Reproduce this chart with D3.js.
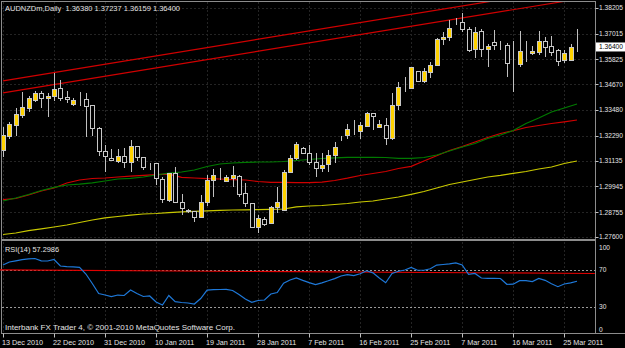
<!DOCTYPE html>
<html>
<head>
<meta charset="utf-8">
<title>AUDNZDm,Daily</title>
<script src="https://cdn.jsdelivr.net/npm/d3@7"></script>
<style>
body{margin:0;background:#000;overflow:hidden;}
text{font-family:"Liberation Sans Narrow","Arial Narrow","Liberation Sans",sans-serif;font-size:8px;fill:#e4e4e4;white-space:pre;}
text.px{font-size:7px;}
</style>
</head>
<body>
<div id="viz"></div>
<script>
var width = 625, height = 348;

// daily OHLC, one entry per bar (13 Dec 2010 .. 28 Mar 2011)
var opens = [1.31628,1.32277,1.32786,1.33249,1.33574,1.33944,1.34268,1.34037,1.34129,1.34500,
  1.34083,1.33759,1.33944,1.33991,1.33713,1.32647,1.31582,1.31258,1.31119,1.31351,
  1.31073,1.31814,1.31304,1.31026,1.31026,1.30285,1.29313,1.30563,1.29220,1.28850,
  1.28804,1.28526,1.29220,1.30239,1.30424,1.30193,1.30332,1.30424,1.29637,1.29174,
  1.28063,1.28433,1.28248,1.28989,1.28850,1.30610,1.31258,1.31721,1.31490,1.31073,
  1.30795,1.30980,1.31397,1.32184,1.32323,1.32601,1.32508,1.32740,1.33342,1.32694,
  1.32786,1.32184,1.33713,1.34546,1.34500,1.35287,1.34824,1.35241,1.35565,1.36769,
  1.36862,1.37556,1.37556,1.37232,1.36306,1.37139,1.36306,1.36630,1.36537,1.36491,
  1.35657,1.35611,1.36260,1.36121,1.36167,1.36676,1.36445,1.36260,1.35796,1.35796,
  1.36380];
var highs = [1.32694,1.32925,1.33574,1.34314,1.34129,1.34361,1.34361,1.34268,1.35194,1.34870,
  1.34361,1.34037,1.34314,1.34268,1.33720,1.32694,1.31860,1.31675,1.31675,1.31721,
  1.32091,1.31814,1.31310,1.31030,1.31030,1.30378,1.30563,1.30841,1.29591,1.28900,
  1.28810,1.29545,1.30471,1.30749,1.30795,1.30471,1.30887,1.30471,1.30100,1.29180,
  1.28618,1.28526,1.29035,1.29915,1.30702,1.31397,1.31999,1.31767,1.31860,1.31490,
  1.31490,1.31628,1.31999,1.32277,1.32832,1.33018,1.32925,1.33388,1.33350,1.33018,
  1.33110,1.34268,1.34778,1.35009,1.35472,1.35290,1.35426,1.35704,1.36815,1.37093,
  1.37649,1.37741,1.37973,1.37325,1.37325,1.37232,1.36537,1.37186,1.36676,1.36584,
  1.36676,1.37139,1.36676,1.36445,1.37139,1.36862,1.36908,1.36306,1.36260,1.36537,
  1.37237];
var lows = [1.31304,1.32138,1.32277,1.33110,1.33388,1.33852,1.33574,1.33157,1.33898,1.33898,
  1.33805,1.33666,1.33666,1.32230,1.32277,1.31351,1.30610,1.31165,1.31026,1.30795,
  1.30610,1.31119,1.30702,1.30702,1.30007,1.29174,1.29220,1.29174,1.28618,1.28711,
  1.28294,1.28479,1.29035,1.29452,1.30239,1.30146,1.29915,1.29452,1.28989,1.28016,
  1.27785,1.28109,1.28202,1.28711,1.28850,1.30563,1.31165,1.31490,1.30934,1.30378,
  1.30610,1.30610,1.31026,1.32045,1.32138,1.32323,1.32138,1.32694,1.32555,1.32647,
  1.31860,1.32091,1.33481,1.34314,1.34453,1.34778,1.34731,1.34963,1.35518,1.36491,
  1.36676,1.37417,1.37093,1.36167,1.35889,1.35935,1.35472,1.36260,1.36260,1.35009,
  1.34314,1.35472,1.35704,1.36028,1.36028,1.35935,1.35982,1.35518,1.35657,1.35750,
  1.36159];
var closes = [1.32323,1.32832,1.33296,1.33620,1.34037,1.34268,1.34037,1.34129,1.34453,1.34037,
  1.33991,1.33944,1.33950,1.33666,1.32647,1.31582,1.31351,1.31165,1.31351,1.31073,
  1.31814,1.31304,1.30841,1.31020,1.30332,1.29359,1.30563,1.29220,1.28942,1.28820,
  1.28526,1.29220,1.30239,1.30471,1.30430,1.30378,1.30471,1.29591,1.29174,1.28063,
  1.28479,1.28202,1.28989,1.29220,1.30610,1.31258,1.31906,1.31490,1.31073,1.30795,
  1.30934,1.31397,1.31767,1.32190,1.32601,1.32610,1.32786,1.33342,1.33203,1.32832,
  1.32184,1.33713,1.34546,1.34550,1.35472,1.34824,1.35287,1.35565,1.36769,1.36862,
  1.37278,1.37560,1.37232,1.36260,1.37093,1.36306,1.36445,1.36491,1.36540,1.35657,
  1.35660,1.36213,1.36265,1.36213,1.36676,1.36398,1.36167,1.35750,1.36121,1.36398,
  1.36400];

// moving averages, read every second bar
var maStep = 2;
var maGreen = [1.29267,1.29406,1.29568,1.29753,1.29901,1.30008,1.30045,1.30110,1.30193,1.30286,
  1.30313,1.30378,1.30471,1.30554,1.30610,1.30702,1.30864,1.30980,1.31027,1.31054,
  1.31073,1.31073,1.31096,1.31142,1.31189,1.31235,1.31267,1.31290,1.31290,1.31290,
  1.31281,1.31244,1.31244,1.31281,1.31397,1.31582,1.31767,1.31930,1.32161,1.32323,
  1.32532,1.32856,1.33110,1.33388,1.33574,1.33759];
var maRed = [1.29327,1.29382,1.29545,1.29730,1.29869,1.30100,1.30239,1.30309,1.30332,1.30378,
  1.30415,1.30452,1.30489,1.30508,1.30364,1.30332,1.30304,1.30286,1.30258,1.30239,
  1.30170,1.30133,1.30128,1.30119,1.30114,1.30137,1.30216,1.30323,1.30448,1.30540,
  1.30633,1.30772,1.30874,1.31119,1.31365,1.31605,1.31791,1.31999,1.32207,1.32393,
  1.32522,1.32671,1.32763,1.32856,1.32934,1.33018];
var maYellow = [1.27715,1.27785,1.27891,1.27979,1.28063,1.28155,1.28271,1.28387,1.28489,1.28549,
  1.28609,1.28665,1.28688,1.28725,1.28767,1.28790,1.28813,1.28831,1.28850,1.28859,
  1.28868,1.28878,1.28896,1.28998,1.29035,1.29058,1.29105,1.29151,1.29220,1.29267,
  1.29359,1.29452,1.29577,1.29707,1.29869,1.30031,1.30147,1.30262,1.30378,1.30457,
  1.30550,1.30633,1.30749,1.30841,1.31003,1.31119];

// channel lines: [bar, price] endpoints
var channelUpper = [[0, 1.34833], [90, 1.39165]];
var channelLower = [[0, 1.34277], [90, 1.38610]];

var rsi = [74.9,78.1,79.4,80.6,81.5,81.9,79.4,79.2,80.8,73.8,
  73.2,72.8,72.4,65.1,54.9,44.1,42.4,40.8,42.4,41.9,
  47.8,44.1,40.8,41.4,34.9,31.6,41.9,35.2,34.3,33.8,
  32.7,38.6,47.8,48.2,48.4,48.5,47.3,43.0,38.1,34.5,
  36.5,37.0,43.5,45.1,55.1,58.6,61.0,58.3,55.8,53.7,
  55.6,57.8,60.2,63.0,64.5,63.4,65.4,68.6,66.4,60.8,
  55.7,65.7,68.1,69.5,72.2,69.2,69.2,70.8,74.8,75.4,
  76.1,77.2,74.9,64.8,65.7,60.8,60.5,60.5,60.3,54.0,
  54.1,57.9,57.9,57.0,60.3,58.3,54.6,51.4,54.3,55.6,
  57.3];
var rsiLevels = [70, 30];
var rsiLine = [[-0.5, 69.5], [92.8, 65.7]];

var priceTicks = [1.38205,1.37015,1.35825,1.34670,1.33480,1.32290,1.31135,1.29945,1.28755,1.27600];
var dateTickBars = [0,8,16,24,32,40,48,56,64,72,80,88];
var dateTickLabels = ['13 Dec 2010','22 Dec 2010','31 Dec 2010','10 Jan 2011','19 Jan 2011','28 Jan 2011',
  '7 Feb 2011','16 Feb 2011','25 Feb 2011','7 Mar 2011','16 Mar 2011','25 Mar 2011'];
var lastPrice = 1.36400;

var left = 1.5, right = 595.5, mainTop = 1.5, mainBottom = 239.5, rsiTop = 240.5, rsiBottom = 333.5;

var x = d3.scaleLinear().domain([0, 90]).range([3, 577]);
var y = d3.scaleLinear().domain([1.27600, 1.38205]).range([237, 8]);
var yr = d3.scaleLinear().domain([0, 100]).range([334.25, 241.75]);

// squeeze text so the first one of a group is `w` px wide (the screenshot font is narrow)
function squeeze(sel, w){
  var nodes = sel.nodes();
  if (!nodes.length) return;
  var k = w / nodes[0].getComputedTextLength();
  nodes.forEach(function(n){
    n.setAttribute('textLength', n.getComputedTextLength() * k);
    n.setAttribute('lengthAdjust', 'spacingAndGlyphs');
  });
}

var svg = d3.select('#viz').append('svg')
  .attr('width', width).attr('height', height)
  .style('background', '#000');

svg.append('defs').append('clipPath').attr('id', 'clipMain')
  .append('rect').attr('x', left).attr('y', mainTop).attr('width', right - left).attr('height', mainBottom - mainTop);

// grid
var grid = svg.append('g').attr('stroke', '#242424').attr('stroke-dasharray', '2,2').attr('shape-rendering', 'crispEdges');
grid.selectAll('line.h').data(priceTicks).join('line')
  .attr('x1', left).attr('x2', right)
  .attr('y1', d => Math.round(y(d)) + 0.5).attr('y2', d => Math.round(y(d)) + 0.5);
grid.selectAll('line.v').data(dateTickBars).join('line')
  .attr('x1', d => Math.round(x(d)) + 0.5).attr('x2', d => Math.round(x(d)) + 0.5)
  .attr('y1', mainTop).attr('y2', rsiBottom);

// moving averages
var main = svg.append('g').attr('clip-path', 'url(#clipMain)');
var maLine = d3.line().x((d, i) => x(i * maStep)).y(d => y(d));
[[maYellow, '#c8c800'], [maRed, '#d00000'], [maGreen, '#007a00']].forEach(function(m){
  main.append('path').attr('d', maLine(m[0])).attr('fill', 'none').attr('stroke', m[1]).attr('stroke-width', 1.2);
});

// channel
var chLine = d3.line().x(d => x(d[0])).y(d => y(d[1]));
[channelUpper, channelLower].forEach(function(c){
  main.append('path').attr('d', chLine(c)).attr('fill', 'none').attr('stroke', '#d00000').attr('stroke-width', 1.2);
});

// candles
var bars = d3.range(opens.length);
var candles = main.append('g').attr('shape-rendering', 'crispEdges');
candles.selectAll('line').data(bars).join('line')
  .attr('x1', i => Math.round(x(i)) + 0.5).attr('x2', i => Math.round(x(i)) + 0.5)
  .attr('y1', i => y(highs[i])).attr('y2', i => y(lows[i]))
  .attr('stroke', '#c0c0c0');
candles.selectAll('rect').data(bars).join('rect')
  .attr('x', i => Math.round(x(i)) - 1.5)
  .attr('width', 4)
  .attr('y', i => Math.round(y(Math.max(opens[i], closes[i]))) + 0.5)
  .attr('height', i => Math.max(0, Math.round(Math.abs(y(opens[i]) - y(closes[i])))))
  .attr('fill', i => closes[i] >= opens[i] ? '#ffd200' : '#000')
  .attr('stroke', '#c8c8c8');

// frames
var frame = svg.append('g').attr('fill', 'none').attr('stroke', '#8c8c8c').attr('shape-rendering', 'crispEdges');
frame.append('rect').attr('x', left).attr('y', mainTop).attr('width', right - left).attr('height', mainBottom - mainTop);
frame.append('rect').attr('x', left).attr('y', rsiTop).attr('width', right - left).attr('height', rsiBottom - rsiTop);
frame.append('line').attr('x1', left).attr('x2', width).attr('y1', rsiBottom).attr('y2', rsiBottom);

// price axis
var pa = svg.append('g');
pa.selectAll('line').data(priceTicks).join('line')
  .attr('x1', right).attr('x2', right + 3)
  .attr('y1', d => Math.round(y(d)) + 0.5).attr('y2', d => Math.round(y(d)) + 0.5)
  .attr('stroke', '#c0c0c0');
var priceLabels = pa.selectAll('text').data(priceTicks).join('text')
  .attr('class', 'px')
  .attr('x', 599).attr('y', d => y(d)).attr('dy', '0.35em')
  .text(d => d.toFixed(5));
squeeze(priceLabels, 24);
pa.append('rect').attr('x', 596).attr('y', y(lastPrice) - 4.5).attr('width', 29).attr('height', 9).attr('fill', '#fff');
var lastLabel = pa.append('text').attr('class', 'px').attr('x', 599).attr('y', y(lastPrice)).attr('dy', '0.35em').style('fill', '#000').text(lastPrice.toFixed(5));
squeeze(lastLabel, 24);

// RSI
var rsiG = svg.append('g');
rsiG.selectAll('line.lvl').data(rsiLevels).join('line')
  .attr('x1', left).attr('x2', right)
  .attr('y1', d => Math.round(yr(d)) + 0.5).attr('y2', d => Math.round(yr(d)) + 0.5)
  .attr('stroke', '#9a9a9a').attr('stroke-dasharray', '2,2').attr('shape-rendering', 'crispEdges');
rsiG.append('path').attr('d', d3.line().x(d => x(d[0])).y(d => yr(d[1]))(rsiLine))
  .attr('fill', 'none').attr('stroke', '#e00000').attr('stroke-width', 1.2);
rsiG.append('path').attr('d', d3.line().x((d, i) => x(i)).y(d => yr(d))(rsi))
  .attr('fill', 'none').attr('stroke', '#1e78d8').attr('stroke-width', 1.2);
var rsiLabels = rsiG.selectAll('text').data([100, 70, 30, 0]).join('text')
  .attr('x', 599).attr('y', d => d == 100 ? yr(d) + 5 : (d == 0 ? yr(d) - 5 : yr(d))).attr('dy', '0.35em')
  .text(d => d);
squeeze(rsiLabels, 11);

// date axis
var da = svg.append('g');
da.selectAll('line').data(dateTickBars).join('line')
  .attr('x1', d => Math.round(x(d)) + 0.5).attr('x2', d => Math.round(x(d)) + 0.5)
  .attr('y1', rsiBottom).attr('y2', rsiBottom + 4)
  .attr('stroke', '#c0c0c0');
var dateLabels = da.selectAll('text').data(dateTickLabels).join('text')
  .attr('x', (d, i) => x(dateTickBars[i]) - 1).attr('y', 345)
  .text(d => d);
squeeze(dateLabels, 41);

// labels
squeeze(svg.append('text').attr('x', 5).attr('y', 10.5).text('AUDNZDm,Daily  1.36380 1.37237 1.36159 1.36400'), 175);
squeeze(svg.append('text').attr('x', 5).attr('y', 251.5).text('RSI(14) 57.2986'), 54);
squeeze(svg.append('text').attr('x', 5).attr('y', 330).text('Interbank FX Trader 4, \u00a9 2001-2010 MetaQuotes Software Corp.'), 230);
</script>
</body>
</html>
